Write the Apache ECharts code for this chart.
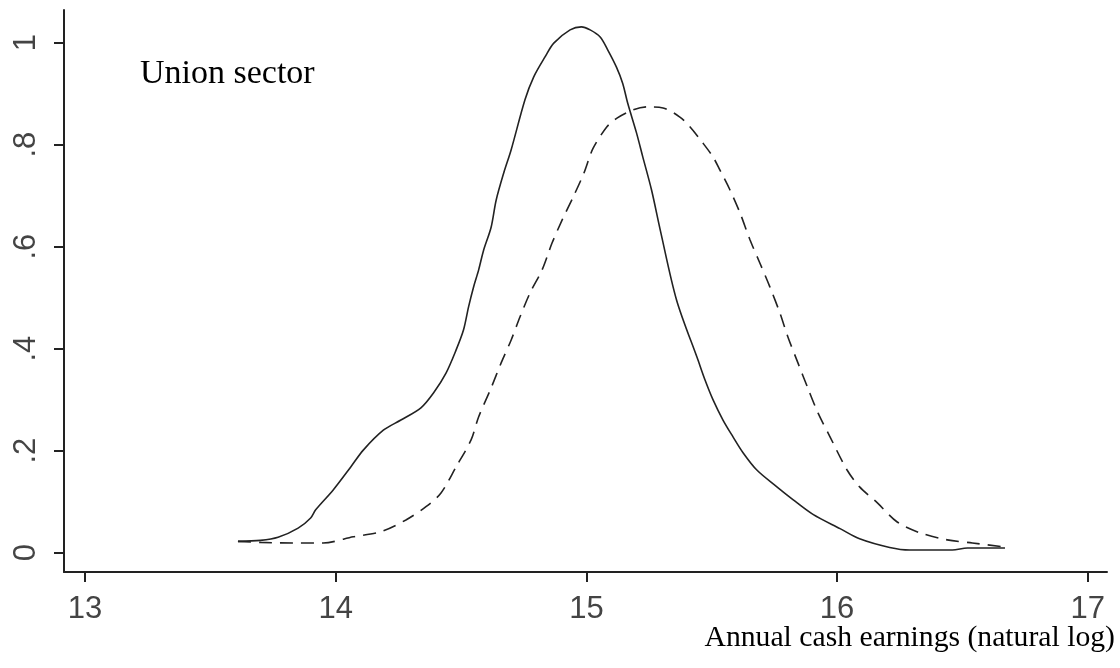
<!DOCTYPE html>
<html>
<head>
<meta charset="utf-8">
<title>Union sector earnings density</title>
<script src="https://cdn.jsdelivr.net/npm/echarts@6/dist/echarts.min.js"></script>
<style>
  html, body { margin: 0; padding: 0; background: #ffffff; }
  #chart { width: 1120px; height: 668px; }
</style>
</head>
<body>
<div id="chart"></div>
<script>
// Kernel density of log annual cash earnings, union sector (two groups)
const solidX = [13.61, 13.70, 13.77, 13.85, 13.90, 13.92, 13.99, 14.06, 14.11, 14.19, 14.26, 14.34,
  14.39, 14.44, 14.48, 14.51, 14.53, 14.55, 14.57, 14.59, 14.62, 14.64, 14.67, 14.70, 14.755, 14.79,
  14.835, 14.87, 14.935, 14.98, 15.015, 15.055, 15.085, 15.12, 15.145, 15.165, 15.20, 15.225, 15.26,
  15.295, 15.36, 15.445, 15.473, 15.505, 15.545, 15.585, 15.625, 15.68, 15.76, 15.824, 15.904, 16.012,
  16.09, 16.21, 16.29, 16.46, 16.52, 16.67];
const solidY = [0.022, 0.024, 0.030, 0.048, 0.068, 0.084, 0.123, 0.168, 0.201, 0.240, 0.260, 0.284,
  0.313, 0.352, 0.397, 0.437, 0.482, 0.521, 0.554, 0.593, 0.638, 0.691, 0.744, 0.790, 0.888, 0.933,
  0.972, 0.999, 1.025, 1.031, 1.025, 1.011, 0.986, 0.952, 0.920, 0.881, 0.823, 0.776, 0.711,
  0.632, 0.495, 0.378, 0.339, 0.300, 0.260, 0.227, 0.196, 0.162, 0.129, 0.104, 0.075, 0.047,
  0.027, 0.010, 0.005, 0.005, 0.009, 0.009];

const dashedX = [13.61, 13.70, 13.83, 13.95, 14.07, 14.18, 14.28, 14.36, 14.42, 14.48, 14.54, 14.57,
  14.62, 14.66, 14.70, 14.735, 14.775, 14.823, 14.863, 14.903, 14.947, 14.99, 15.026, 15.082, 15.122,
  15.186, 15.242, 15.306, 15.373, 15.413, 15.465, 15.505, 15.533, 15.573, 15.613, 15.653, 15.692,
  15.732, 15.772, 15.804, 15.844, 15.884, 15.924, 15.972, 16.04, 16.09, 16.16, 16.24, 16.33, 16.44,
  16.54, 16.67];
const dashedY = [0.022, 0.020, 0.019, 0.019, 0.031, 0.041, 0.064, 0.090, 0.117, 0.168, 0.221, 0.266,
  0.323, 0.372, 0.417, 0.462, 0.509, 0.554, 0.607, 0.652, 0.697, 0.744, 0.792, 0.835, 0.852,
  0.868, 0.874, 0.872, 0.854, 0.835, 0.803, 0.776, 0.750, 0.711, 0.666, 0.613, 0.568,
  0.521, 0.470, 0.423, 0.372, 0.322, 0.274, 0.227, 0.162, 0.129, 0.098, 0.060, 0.039, 0.025,
  0.019, 0.011];

const xTicks = [13, 14, 15, 16, 17];
const yTicks = [0, 0.2, 0.4, 0.6, 0.8, 1];
const yTickLabels = ['0', '.2', '.4', '.6', '.8', '1'];

const panelTitle = 'Union sector';
const xAxisTitle = 'Annual cash earnings (natural log)';

const pairs = (xs, ys) => xs.map((x, i) => [x, ys[i]]);

const ink = '#222222';
const tickFont = { fontFamily: 'Liberation Sans, Arial, sans-serif', fontSize: 31, color: '#444444' };

const chart = echarts.init(document.getElementById('chart'), null, { renderer: 'canvas' });

chart.setOption({
  animation: false,
  backgroundColor: '#ffffff',
  grid: { left: 64, right: 13, top: 10, bottom: 96, containLabel: false, outerBoundsMode: 'none' },
  xAxis: {
    type: 'value',
    min: 12.916,
    max: 17.077,
    splitLine: { show: false },
    axisLine: { show: true, onZero: false, lineStyle: { color: ink, width: 2 } },
    axisTick: { show: true, customValues: xTicks, length: 10, inside: false, lineStyle: { color: ink, width: 2 } },
    axisLabel: Object.assign({ customValues: xTicks, margin: 22, formatter: v => String(v) }, tickFont)
  },
  yAxis: {
    type: 'value',
    min: -0.038,
    max: 1.064,
    splitLine: { show: false },
    axisLine: { show: true, onZero: false, lineStyle: { color: ink, width: 2 } },
    axisTick: { show: true, customValues: yTicks, length: 10, inside: false, lineStyle: { color: ink, width: 2 } },
    axisLabel: Object.assign({
      customValues: yTicks,
      rotate: 90,
      margin: 22,
      formatter: v => {
        const i = yTicks.findIndex(t => Math.abs(t - v) < 1e-9);
        return i >= 0 ? yTickLabels[i] : '';
      }
    }, tickFont)
  },
  series: [
    {
      name: 'solid',
      type: 'line',
      data: pairs(solidX, solidY),
      showSymbol: false,
      smooth: 0.3,
      lineStyle: { color: ink, width: 1.6, type: 'solid' }
    },
    {
      name: 'dashed',
      type: 'line',
      data: pairs(dashedX, dashedY),
      showSymbol: false,
      smooth: 0.3,
      lineStyle: { color: ink, width: 1.6, type: [13, 8] }
    }
  ],
  graphic: [
    {
      type: 'text',
      left: 140,
      top: 57,
      style: {
        text: panelTitle,
        fontFamily: 'Liberation Serif, Times New Roman, serif',
        fontSize: 34,
        fill: '#000000'
      }
    },
    {
      type: 'text',
      right: 5,
      top: 623,
      style: {
        text: xAxisTitle,
        fontFamily: 'Liberation Serif, Times New Roman, serif',
        fontSize: 29.7,
        fill: '#000000'
      }
    }
  ]
});
</script>
</body>
</html>
